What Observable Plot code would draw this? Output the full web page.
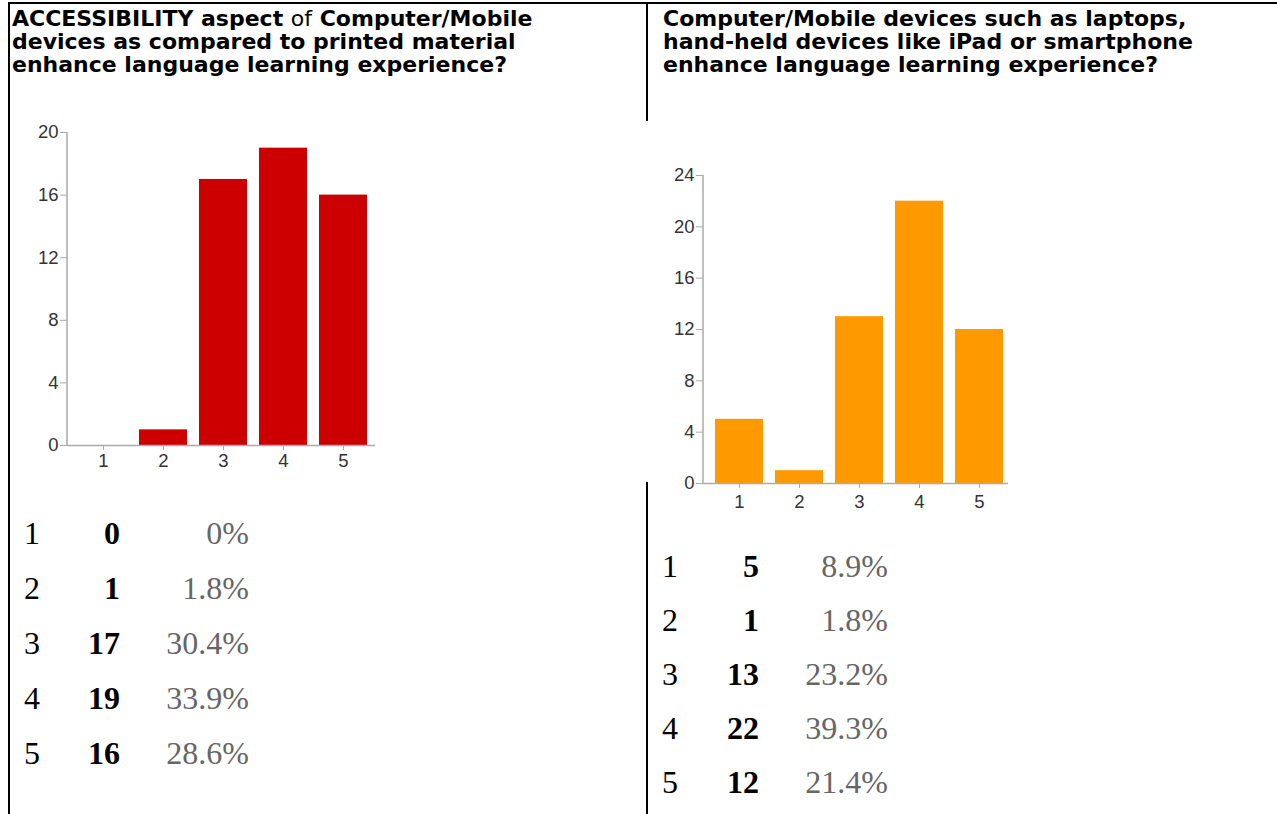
<!DOCTYPE html>
<html><head><meta charset="utf-8">
<script src="https://cdn.jsdelivr.net/npm/d3@7"></script>
<script src="https://cdn.jsdelivr.net/npm/@observablehq/plot@0.6"></script>
<style>
body{margin:0;background:#fff;width:1277px;height:814px;position:relative;overflow:hidden;}
.abs{position:absolute}
.line{position:absolute;background:#000}
.hdr{position:absolute;font-family:"DejaVu Sans",Arial,Helvetica,sans-serif;font-weight:bold;font-size:22px;color:#000;white-space:nowrap}
.hdr div{height:23px;line-height:23px}
.hdr .n{font-weight:normal}
.cell{position:absolute;font-family:"Liberation Serif","Times New Roman",serif;font-size:32px;line-height:40px;height:40px;white-space:nowrap}
.cnt{font-weight:bold;color:#000;text-align:right}
.pct{color:#666;text-align:right}
.lab{color:#000}
</style></head><body>
<script>
// ---- data ----
const ratings = ["1", "2", "3", "4", "5"];
const countsA = [0, 1, 17, 19, 16];
const percentA = ["0%", "1.8%", "30.4%", "33.9%", "28.6%"];
const countsB = [5, 1, 13, 22, 12];
const percentB = ["8.9%", "1.8%", "23.2%", "39.3%", "21.4%"];
const yTicksA = [0, 4, 8, 12, 16, 20];
const yTicksB = [0, 4, 8, 12, 16, 20, 24];
const titleA = ['ACCESSIBILITY aspect <span class="n">of</span> Computer/Mobile',
                'devices as compared to printed material',
                'enhance language learning experience?'];
const titleB = ['Computer/Mobile devices such as laptops,',
                'hand-held devices like iPad or smartphone',
                'enhance language learning experience?'];
const colorA = "#cc0000";
const colorB = "#ff9900";

// ---- frame lines ----
function line(l, t, w, h) {
  const d = document.createElement("div");
  d.className = "line";
  Object.assign(d.style, {left: l + "px", top: t + "px", width: w + "px", height: h + "px"});
  document.body.appendChild(d);
}
line(8, 2, 1269, 2);
line(8, 2, 2, 812);
line(646, 2, 2, 119);
line(646, 482, 2, 332);

// ---- headers ----
function header(lines, l, t) {
  const d = document.createElement("div");
  d.className = "hdr";
  d.style.left = l + "px"; d.style.top = t + "px";
  d.innerHTML = lines.map(s => "<div>" + s + "</div>").join("");
  document.body.appendChild(d);
}
header(titleA, 12, 7);
header(titleB, 663, 7);

// ---- charts ----
function chart(counts, ticks, color, o) {
  const data = ratings.map((r, i) => ({rating: r, count: counts[i]}));
  const ymax = ticks[ticks.length - 1];
  const p = Plot.plot({
    width: o.width, height: o.height,
    marginLeft: o.ml, marginRight: o.mr, marginTop: o.mt, marginBottom: o.mb,
    style: {fontFamily: "'Liberation Sans', Arial, Helvetica, sans-serif", fontSize: "18.5px", color: "#333", background: "transparent", overflow: "visible"},
    x: {domain: ratings, range: o.xrange, paddingInner: 0.2, paddingOuter: 0.1, label: null},
    y: {domain: [0, ymax], label: null},
    marks: [
      Plot.barY(data, {x: "rating", y: "count", fill: color}),
      Plot.ruleY([0], {stroke: "#aaa", strokeWidth: 1.5}),
      Plot.axisY({ticks, tickSize: 7, tickPadding: 2, stroke: "#aaa", label: null}),
      Plot.axisX({tickSize: 5, tickPadding: o.xpad, stroke: "#aaa", label: null})
    ]
  });
  const y = p.scale("y");
  d3.select(p).append("line")
    .attr("x1", o.ml).attr("x2", o.ml)
    .attr("y1", y.apply(0)).attr("y2", y.apply(ymax))
    .attr("stroke", "#aaa").attr("stroke-width", 1.5);
  const wrap = document.createElement("div");
  wrap.className = "abs";
  wrap.style.left = o.left + "px"; wrap.style.top = o.top + "px";
  wrap.appendChild(p);
  document.body.appendChild(wrap);
}
chart(countsA, yTicksA, colorA, {left: 0, top: 120, width: 400, height: 360, ml: 67, mr: 25, mt: 12, mb: 35, xpad: 3, xrange: [71.1, 374.9]});
chart(countsB, yTicksB, colorB, {left: 640, top: 160, width: 400, height: 360, ml: 63, mr: 32, mt: 15, mb: 37, xpad: 6, xrange: [67.9, 369.1]});

// ---- tables ----
function table(counts, percents, o) {
  ratings.forEach((r, i) => {
    const c = o.c0 + i * o.step;
    const mk = (cls, text, css) => {
      const d = document.createElement("div");
      d.className = "cell " + cls;
      d.textContent = text;
      Object.assign(d.style, css, {top: (c - 20) + "px"});
      document.body.appendChild(d);
    };
    mk("lab", r, {left: o.lx + "px"});
    mk("cnt", String(counts[i]), {left: (o.cx - 80) + "px", width: "80px"});
    mk("pct", percents[i], {left: (o.px - 120) + "px", width: "120px"});
  });
}
table(countsA, percentA, {c0: 533, step: 55, lx: 24, cx: 120, px: 249});
table(countsB, percentB, {c0: 566, step: 54, lx: 662, cx: 759, px: 888});
</script>
</body></html>
